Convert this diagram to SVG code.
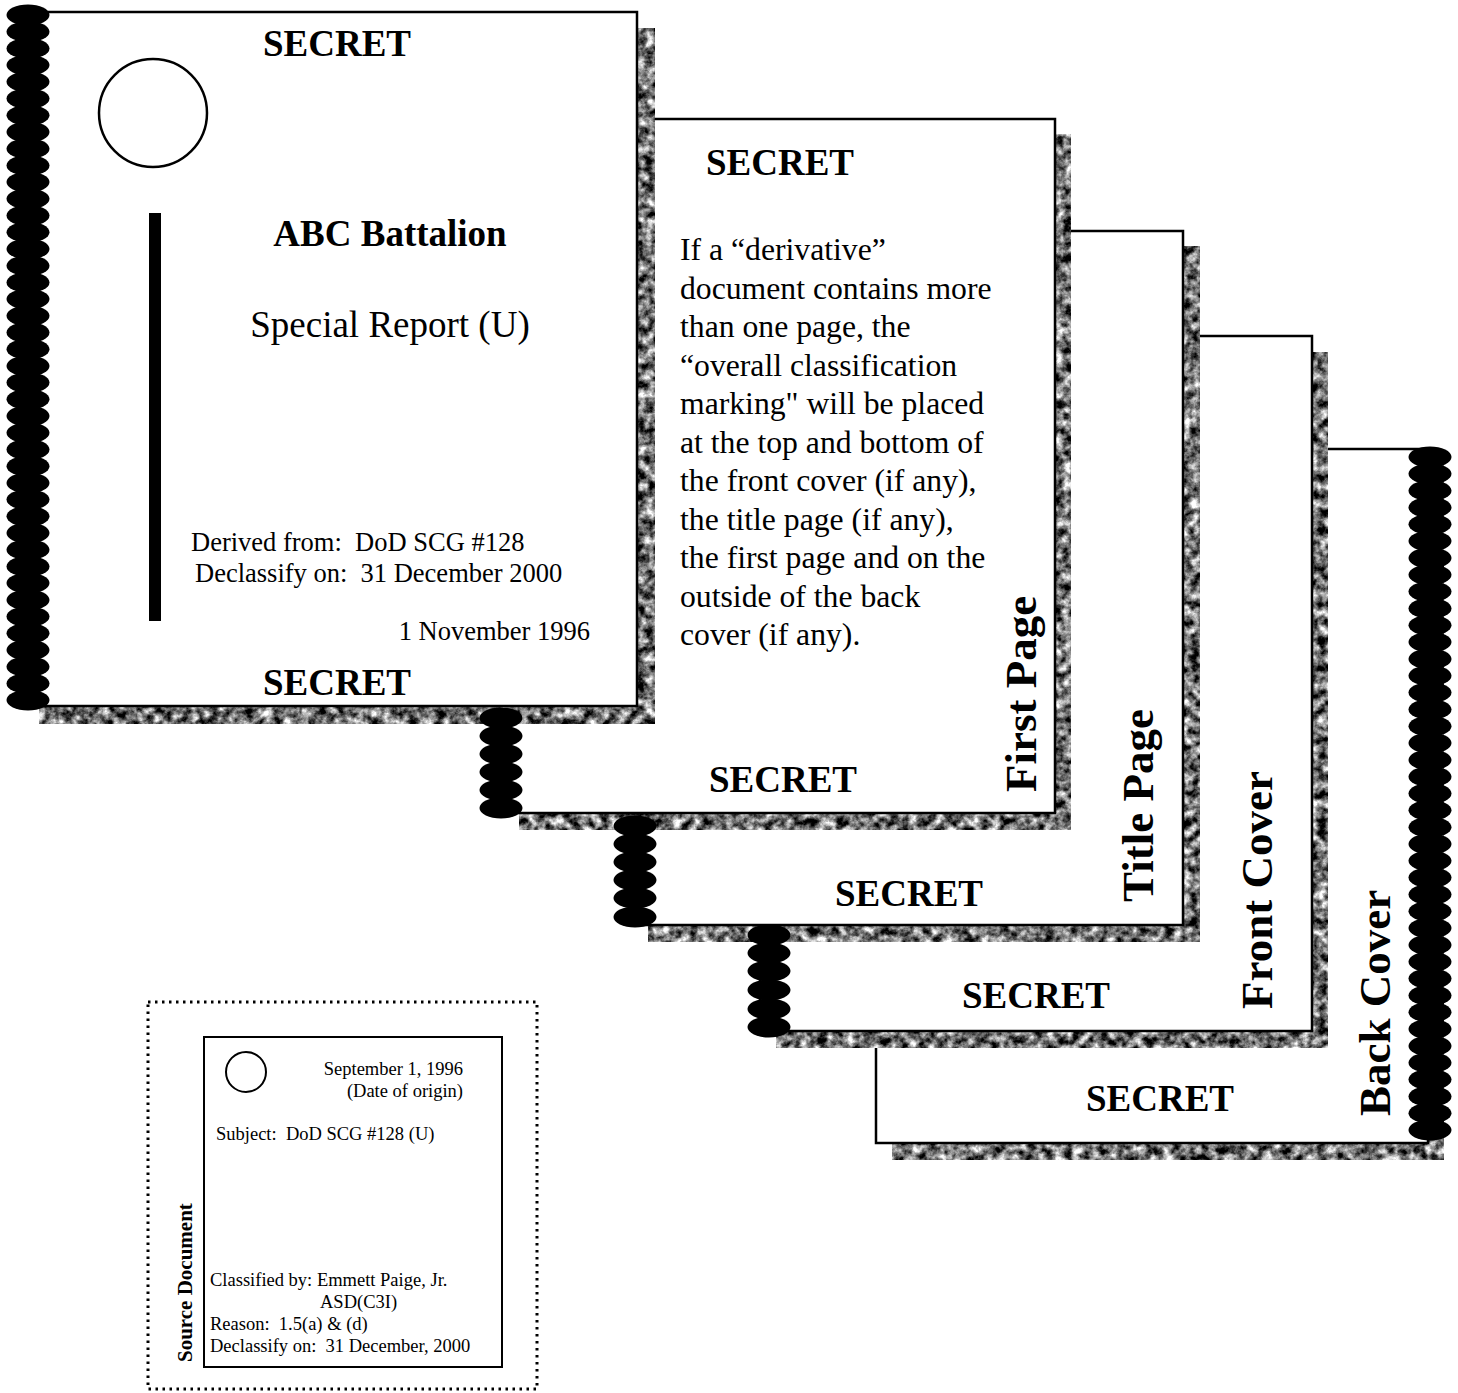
<svg xmlns="http://www.w3.org/2000/svg" width="1458" height="1393" viewBox="0 0 1458 1393">
<defs>
<style>
.page{fill:#fff;stroke:#000;stroke-width:2.5}
.shadow{fill:#000}
.t{font-family:"Liberation Serif","Times New Roman",serif;fill:#000}
.b{font-weight:bold}
.sec{font-family:"Liberation Serif","Times New Roman",serif;font-weight:bold;font-size:37px;text-anchor:middle}
.para{font-family:"Liberation Serif","Times New Roman",serif;font-size:31.7px}
.vlab{font-family:"Liberation Serif","Times New Roman",serif;font-weight:bold;font-size:45px}
.src{font-family:"Liberation Serif","Times New Roman",serif;font-size:18.5px}
</style>
<filter id="mottle" filterUnits="userSpaceOnUse" x="0" y="0" width="1458" height="1393" color-interpolation-filters="sRGB">
<feTurbulence type="fractalNoise" baseFrequency="0.11" numOctaves="4" seed="11" result="n"/>
<feColorMatrix in="n" type="matrix" values="1.9 0 0 0 -0.5  1.9 0 0 0 -0.5  1.9 0 0 0 -0.5  0 0 0 0 1" result="g"/>
<feComposite in="g" in2="SourceGraphic" operator="in"/>
</filter>
<ellipse id="coil" cx="0" cy="0" rx="21.5" ry="10.5" fill="#000"/>
</defs>
<rect width="1458" height="1393" fill="#fff"/>

<g id="back-cover">
<rect class="shadow" x="892" y="465" width="552" height="695" filter="url(#mottle)"/>
<rect class="page" x="876" y="449" width="552" height="694"/>
<text class="sec" x="1160" y="1111">SECRET</text>
<text class="vlab" transform="translate(1390,1116) rotate(-90)">Back Cover</text>
</g>

<g id="front-cover">
<rect class="shadow" x="776" y="352" width="552" height="696" filter="url(#mottle)"/>
<rect class="page" x="760" y="336" width="552" height="695"/>
<text class="sec" x="1036" y="1008">SECRET</text>
<text class="vlab" transform="translate(1272,1009) rotate(-90)">Front Cover</text>
</g>

<g id="title-page">
<rect class="shadow" x="648" y="246" width="552" height="696" filter="url(#mottle)"/>
<rect class="page" x="632" y="231" width="551" height="694"/>
<text class="sec" x="909" y="906">SECRET</text>
<text class="vlab" transform="translate(1153,902) rotate(-90)">Title Page</text>
</g>

<g id="first-page">
<rect class="shadow" x="519" y="134" width="552" height="696" filter="url(#mottle)"/>
<rect class="page" x="503" y="119" width="552" height="694"/>
<text class="sec" x="780" y="175">SECRET</text>
<text class="para" x="680">
<tspan x="680" y="260">If a “derivative”</tspan>
<tspan x="680" y="298.5">document contains more</tspan>
<tspan x="680" y="337">than one page, the</tspan>
<tspan x="680" y="375.5">“overall classification</tspan>
<tspan x="680" y="414">marking" will be placed</tspan>
<tspan x="680" y="452.5">at the top and bottom of</tspan>
<tspan x="680" y="491">the front cover (if any),</tspan>
<tspan x="680" y="529.5">the title page (if any),</tspan>
<tspan x="680" y="568">the first page and on the</tspan>
<tspan x="680" y="606.5">outside of the back</tspan>
<tspan x="680" y="645">cover (if any).</tspan>
</text>
<text class="sec" x="783" y="792">SECRET</text>
<text class="vlab" transform="translate(1036,792) rotate(-90)">First Page</text>
</g>

<g id="derivative-cover">
<rect class="shadow" x="39" y="28" width="616" height="696" filter="url(#mottle)"/>
<rect class="page" x="22" y="12" width="615" height="694"/>
<text class="sec" x="337" y="56">SECRET</text>
<circle cx="153" cy="113" r="54" fill="none" stroke="#000" stroke-width="2.5"/>
<rect x="149" y="213" width="12" height="408" fill="#000"/>
<text class="t b" x="390" y="246" font-size="37" text-anchor="middle">ABC Battalion</text>
<text class="t" x="390" y="337" font-size="37" text-anchor="middle">Special Report (U)</text>
<text class="t" x="191" y="551" font-size="26.5" xml:space="preserve">Derived from:  DoD SCG #128</text>
<text class="t" x="195" y="582" font-size="26.5" xml:space="preserve">Declassify on:  31 December 2000</text>
<text class="t" x="590" y="640" font-size="26.5" text-anchor="end">1 November 1996</text>
<text class="sec" x="337" y="695">SECRET</text>
</g>

<g id="source-document">
<rect x="148" y="1002" width="389" height="387" fill="none" stroke="#000" stroke-width="3" stroke-dasharray="2.5 4.5"/>
<rect x="204" y="1037" width="298" height="330" fill="#fff" stroke="#000" stroke-width="2"/>
<circle cx="246" cy="1072" r="20" fill="none" stroke="#000" stroke-width="2"/>
<text class="src" x="463" y="1075" text-anchor="end">September 1, 1996</text>
<text class="src" x="463" y="1097" text-anchor="end">(Date of origin)</text>
<text class="src" x="216" y="1140" xml:space="preserve">Subject:  DoD SCG #128 (U)</text>
<text class="src" x="210" y="1286">Classified by: Emmett Paige, Jr.</text>
<text class="src" x="320" y="1308">ASD(C3I)</text>
<text class="src" x="210" y="1330" xml:space="preserve">Reason:  1.5(a) &amp; (d)</text>
<text class="src" x="210" y="1352" xml:space="preserve">Declassify on:  31 December, 2000</text>
<text class="t b" font-size="21" transform="translate(192,1362) rotate(-90)">Source Document</text>
</g>

<g id="bindings">
<g id="coil-left">
<use href="#coil" x="28" y="15"/><use href="#coil" x="28" y="31.7"/><use href="#coil" x="28" y="48.4"/><use href="#coil" x="28" y="65.1"/><use href="#coil" x="28" y="81.8"/><use href="#coil" x="28" y="98.6"/><use href="#coil" x="28" y="115.3"/><use href="#coil" x="28" y="132"/><use href="#coil" x="28" y="148.7"/><use href="#coil" x="28" y="165.4"/><use href="#coil" x="28" y="182.1"/><use href="#coil" x="28" y="198.8"/><use href="#coil" x="28" y="215.5"/><use href="#coil" x="28" y="232.2"/><use href="#coil" x="28" y="248.9"/><use href="#coil" x="28" y="265.7"/><use href="#coil" x="28" y="282.4"/><use href="#coil" x="28" y="299.1"/><use href="#coil" x="28" y="315.8"/><use href="#coil" x="28" y="332.5"/><use href="#coil" x="28" y="349.2"/><use href="#coil" x="28" y="365.9"/><use href="#coil" x="28" y="382.6"/><use href="#coil" x="28" y="399.3"/><use href="#coil" x="28" y="416"/><use href="#coil" x="28" y="432.8"/><use href="#coil" x="28" y="449.5"/><use href="#coil" x="28" y="466.2"/><use href="#coil" x="28" y="482.9"/><use href="#coil" x="28" y="499.6"/><use href="#coil" x="28" y="516.3"/><use href="#coil" x="28" y="533"/><use href="#coil" x="28" y="549.7"/><use href="#coil" x="28" y="566.4"/><use href="#coil" x="28" y="583.1"/><use href="#coil" x="28" y="599.9"/><use href="#coil" x="28" y="616.6"/><use href="#coil" x="28" y="633.3"/><use href="#coil" x="28" y="650"/><use href="#coil" x="28" y="666.7"/><use href="#coil" x="28" y="683.4"/><use href="#coil" x="28" y="700.1"/>
</g>
<g id="coil-a">
<use href="#coil" x="501" y="718"/><use href="#coil" x="501" y="736"/><use href="#coil" x="501" y="754"/><use href="#coil" x="501" y="772"/><use href="#coil" x="501" y="790"/><use href="#coil" x="501" y="808"/>
</g>
<g id="coil-b">
<use href="#coil" x="635" y="826"/><use href="#coil" x="635" y="844"/><use href="#coil" x="635" y="862"/><use href="#coil" x="635" y="880"/><use href="#coil" x="635" y="898"/><use href="#coil" x="635" y="917"/>
</g>
<g id="coil-c">
<use href="#coil" x="769" y="935"/><use href="#coil" x="769" y="953"/><use href="#coil" x="769" y="971"/><use href="#coil" x="769" y="990"/><use href="#coil" x="769" y="1009"/><use href="#coil" x="769" y="1027"/>
</g>
<g id="coil-right">
<use href="#coil" x="1430" y="457"/><use href="#coil" x="1430" y="473.8"/><use href="#coil" x="1430" y="490.7"/><use href="#coil" x="1430" y="507.5"/><use href="#coil" x="1430" y="524.3"/><use href="#coil" x="1430" y="541.1"/><use href="#coil" x="1430" y="558"/><use href="#coil" x="1430" y="574.8"/><use href="#coil" x="1430" y="591.6"/><use href="#coil" x="1430" y="608.4"/><use href="#coil" x="1430" y="625.3"/><use href="#coil" x="1430" y="642.1"/><use href="#coil" x="1430" y="658.9"/><use href="#coil" x="1430" y="675.7"/><use href="#coil" x="1430" y="692.6"/><use href="#coil" x="1430" y="709.4"/><use href="#coil" x="1430" y="726.2"/><use href="#coil" x="1430" y="743"/><use href="#coil" x="1430" y="759.9"/><use href="#coil" x="1430" y="776.7"/><use href="#coil" x="1430" y="793.5"/><use href="#coil" x="1430" y="810.3"/><use href="#coil" x="1430" y="827.2"/><use href="#coil" x="1430" y="844"/><use href="#coil" x="1430" y="860.8"/><use href="#coil" x="1430" y="877.6"/><use href="#coil" x="1430" y="894.5"/><use href="#coil" x="1430" y="911.3"/><use href="#coil" x="1430" y="928.1"/><use href="#coil" x="1430" y="944.9"/><use href="#coil" x="1430" y="961.8"/><use href="#coil" x="1430" y="978.6"/><use href="#coil" x="1430" y="995.4"/><use href="#coil" x="1430" y="1012.2"/><use href="#coil" x="1430" y="1029.1"/><use href="#coil" x="1430" y="1045.9"/><use href="#coil" x="1430" y="1062.7"/><use href="#coil" x="1430" y="1079.5"/><use href="#coil" x="1430" y="1096.4"/><use href="#coil" x="1430" y="1113.2"/><use href="#coil" x="1430" y="1130"/>
</g>
</g>
</svg>
